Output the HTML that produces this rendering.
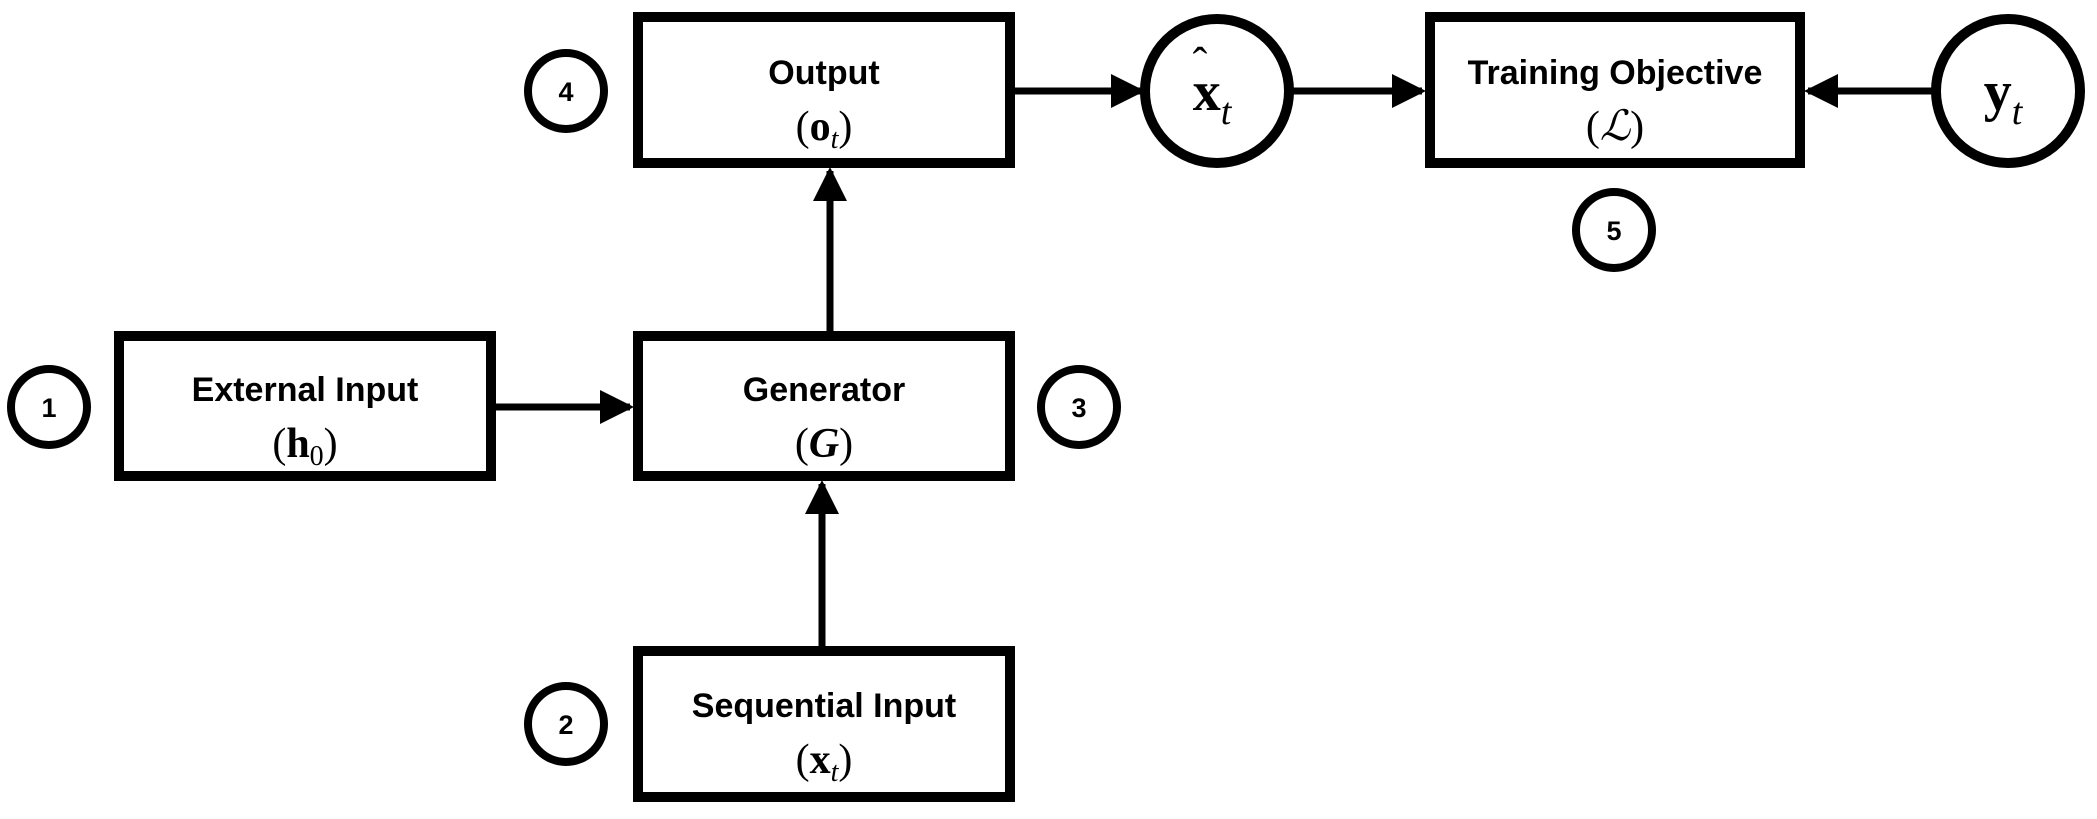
<!DOCTYPE html>
<html><head><style>
body{margin:0;background:#fff}
svg text{font-family:"Liberation Sans",sans-serif;font-weight:bold}
.m{font-family:"Liberation Serif",serif;font-weight:normal}
.b{font-weight:bold}
.i{font-style:italic;font-weight:normal}
</style></head><body>
<svg width="2097" height="814" viewBox="0 0 2097 814" xmlns="http://www.w3.org/2000/svg">
<defs>
<marker id="b" markerWidth="34" markerHeight="34" refX="30" refY="17" orient="auto" markerUnits="userSpaceOnUse"><path d="M0,0 L34,17 L0,34z" fill="#000"/></marker></defs>
<g fill="none" stroke="#000" stroke-width="10">
<rect x="638" y="17" width="372" height="146"/>
<rect x="1430" y="17" width="370" height="146"/>
<rect x="119" y="336" width="372" height="140"/>
<rect x="638" y="336" width="372" height="140"/>
<rect x="638" y="651" width="372" height="146"/>
<circle cx="1217" cy="91" r="72"/>
<circle cx="2008" cy="91" r="72"/>
<g stroke-width="8">
<circle cx="566" cy="91" r="38"/><circle cx="1614" cy="230" r="38"/>
<circle cx="49" cy="407" r="38"/><circle cx="1079" cy="407" r="38"/>
<circle cx="566" cy="724" r="38"/>
</g>
<g stroke-width="7">
<line x1="1014" y1="91" x2="1141" y2="91" marker-end="url(#b)"/>
<line x1="1289" y1="91" x2="1422" y2="91" marker-end="url(#b)"/>
<line x1="1936" y1="91" x2="1808" y2="91" marker-end="url(#b)"/>
<line x1="495" y1="407" x2="630" y2="407" marker-end="url(#b)"/>
<line x1="830" y1="332" x2="830" y2="171" marker-end="url(#b)"/>
<line x1="822" y1="647" x2="822" y2="484" marker-end="url(#b)"/>
</g>
</g>
<g text-anchor="middle" font-size="34">
<text x="824" y="84">Output</text>
<text x="824" y="140" class="m" font-size="42">(<tspan class="b">o</tspan><tspan class="i" font-size="28" dy="8">t</tspan><tspan dy="-8">)</tspan></text>
<text x="1615" y="84">Training Objective</text>
<text x="1615" y="140" class="m" font-size="42">(<tspan class="i">ℒ</tspan>)</text>
<text x="305" y="401">External Input</text>
<text x="305" y="457" class="m" font-size="42">(<tspan class="b">h</tspan><tspan font-size="28" dy="8">0</tspan><tspan dy="-8">)</tspan></text>
<text x="824" y="401">Generator</text>
<text x="824" y="457" class="m" font-size="42">(<tspan class="b" style="font-style:italic">G</tspan>)</text>
<text x="824" y="717">Sequential Input</text>
<text x="824" y="773" class="m" font-size="42">(<tspan class="b">x</tspan><tspan class="i" font-size="28" dy="8">t</tspan><tspan dy="-8">)</tspan></text>
<text x="1212" y="110" class="m" font-size="56"><tspan class="b">x</tspan><tspan class="i" font-size="38" dy="14">t</tspan></text>
<text x="1200" y="78" class="m" font-size="44">ˆ</text>
<text x="2003" y="110" class="m" font-size="56"><tspan class="b">y</tspan><tspan class="i" font-size="38" dy="14">t</tspan></text>
<g font-size="27"><text x="566" y="101">4</text><text x="1614" y="240">5</text><text x="49" y="417">1</text><text x="1079" y="417">3</text><text x="566" y="734">2</text></g>
</g>
</svg>
</body></html>
